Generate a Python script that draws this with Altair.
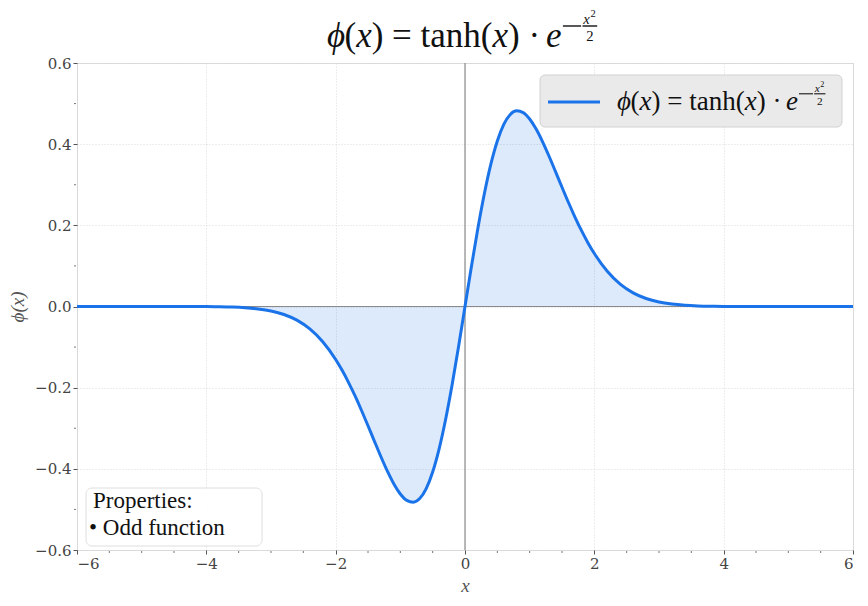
import altair as alt
import pandas as pd

# ---- data ----
xs = [-6.0, -5.6, -5.2, -4.8, -4.4, -4.0, -3.8, -3.6, -3.4, -3.2, -3.0, -2.8, -2.6, -2.4, -2.2,
      -2.0, -1.9, -1.8, -1.7, -1.6, -1.5, -1.4, -1.3, -1.2, -1.1, -1.0, -0.9, -0.8, -0.7, -0.6,
      -0.5, -0.4, -0.3, -0.2, -0.1, 0.0, 0.1, 0.2, 0.3, 0.4, 0.5, 0.6, 0.7, 0.8, 0.9, 1.0, 1.1,
      1.2, 1.3, 1.4, 1.5, 1.6, 1.7, 1.8, 1.9, 2.0, 2.2, 2.4, 2.6, 2.8, 3.0, 3.2, 3.4, 3.6, 3.8,
      4.0, 4.4, 4.8, 5.2, 5.6, 6.0]
ys = [0.0, 0.0, 0.0, 0.0, 0.0, -0.0003, -0.0007, -0.0015, -0.0031, -0.0060, -0.0110, -0.0197,
      -0.0337, -0.0552, -0.0868, -0.1305, -0.1573, -0.1874, -0.2205, -0.2562, -0.2939, -0.3323,
      -0.3702, -0.4058, -0.4372, -0.4619, -0.4778, -0.4821, -0.4731, -0.4486, -0.4078, -0.3507,
      -0.2785, -0.1935, -0.0992, 0.0, 0.0992, 0.1935, 0.2785, 0.3507, 0.4078, 0.4486, 0.4731,
      0.4821, 0.4778, 0.4619, 0.4372, 0.4058, 0.3702, 0.3323, 0.2939, 0.2562, 0.2205, 0.1874,
      0.1573, 0.1305, 0.0868, 0.0552, 0.0337, 0.0197, 0.0110, 0.0060, 0.0031, 0.0015, 0.0007,
      0.0003, 0.0, 0.0, 0.0, 0.0, 0.0]
x_ticks = [-6, -4, -2, 0, 2, 4, 6]
y_ticks = [-0.6, -0.4, -0.2, 0.0, 0.2, 0.4, 0.6]
x_minor = [-5.5, -5, -4.5, -3.5, -3, -2.5, -1.5, -1, -0.5, 0.5, 1, 1.5, 2.5, 3, 3.5, 4.5, 5, 5.5]
y_minor = [-0.5, -0.3, -0.1, 0.1, 0.3, 0.5]
props_lines = ["Properties:", "• Odd function"]

W, H = 776, 487
BLUE = "#1a73e8"
SERIF = "DejaVu Serif"
MATH = "Liberation Serif"

df = pd.DataFrame({"x": xs, "y": ys})
one = pd.DataFrame({"a": [0]})

xscale = alt.Scale(domain=[-6, 6], nice=False, zero=False)
yscale = alt.Scale(domain=[-0.6, 0.6], nice=False, zero=False)

xaxis = alt.Axis(values=x_ticks, format="d", labelExpr="replace(datum.label, '-', '−')",
                 title="x", titleFont=MATH, titleFontStyle="italic", titleFontWeight="normal",
                 titleFontSize=19, titleColor="#555555", titlePadding=5,
                 labelFont=SERIF, labelFontSize=15, labelColor="#444444", labelPadding=2,
                 tickSize=4, tickColor="#555555", domain=False,
                 grid=True, gridColor="#d2d2d2", gridDash=[1, 2], gridWidth=0.8)
yaxis = alt.Axis(values=y_ticks, format=".1f", labelExpr="replace(datum.label, '-', '−')",
                 title="ϕ(x)", titleFont=MATH, titleFontStyle="italic", titleFontWeight="normal",
                 titleFontSize=19, titleColor="#555555", titlePadding=7,
                 labelFont=SERIF, labelFontSize=15, labelColor="#444444", labelPadding=2,
                 tickSize=4, tickColor="#555555", domain=False,
                 grid=True, gridColor="#d2d2d2", gridDash=[1, 2], gridWidth=0.8)

area = alt.Chart(df).mark_area(color=BLUE, opacity=0.15, interpolate="monotone").encode(
    x=alt.X("x:Q", scale=xscale, axis=xaxis),
    y=alt.Y("y:Q", scale=yscale, axis=yaxis),
    y2=alt.datum(0),
)
line = alt.Chart(df).mark_line(color=BLUE, strokeWidth=3, interpolate="monotone").encode(
    x="x:Q", y="y:Q")

hzero = alt.Chart(one).mark_rule(color="#8a8a8a", strokeWidth=1.2).encode(y=alt.datum(0))
vzero = alt.Chart(one).mark_rule(color="#8a8a8a", strokeWidth=1.2).encode(x=alt.datum(0))

xmin = alt.Chart(pd.DataFrame({"m": x_minor})).mark_rule(color="#777777", strokeWidth=1).encode(
    x="m:Q", y=alt.value(H + 1), y2=alt.value(H + 3))
ymin = alt.Chart(pd.DataFrame({"m": y_minor})).mark_rule(color="#777777", strokeWidth=1).encode(
    y="m:Q", x=alt.value(-3), x2=alt.value(-1))

layers = [area, hzero, vzero, line, xmin, ymin]

# ---- math labels (title and legend) ----
WID = {"ϕ": 0.5, "(": 0.333, ")": 0.333, "x": 0.444, " ": 0.25, "=": 0.564, "t": 0.278,
       "a": 0.444, "n": 0.5, "h": 0.5, "·": 0.25, "e": 0.444}


def txt(t, x, y, size, style="normal", font=MATH, color="#111111"):
    return alt.Chart(one).mark_text(align="left", baseline="alphabetic", font=font,
                                    fontSize=size, fontStyle=style, color=color).encode(
        x=alt.value(x), y=alt.value(y), text=alt.value(t))


def rule(x1, x2, y, w):
    return alt.Chart(one).mark_rule(color="#111111", strokeWidth=w).encode(
        x=alt.value(x1), x2=alt.value(x2), y=alt.value(y))


def math_label(x0, b, s):
    segs = [("ϕ", "italic"), ("(", "normal"), ("x", "italic"), (") = tanh(", "normal"),
            ("x", "italic"), (") · ", "normal"), ("e", "italic")]
    out = []
    x = x0
    for t, st in segs:
        out.append(txt(t, x, b, s, st))
        x += sum(WID[c] for c in t) * s
    xe = x
    ly = b - 0.60 * s
    lw = max(1.0, s * 0.04)
    out.append(rule(xe + 0.04 * s, xe + 0.56 * s, ly, lw))
    out.append(rule(xe + 0.60 * s, xe + 1.02 * s, ly, lw))
    out.append(txt("x", xe + 0.62 * s, b - 0.66 * s, 0.42 * s, "italic"))
    out.append(txt("2", xe + 0.62 * s + 0.21 * s, b - 0.86 * s, 0.30 * s))
    out.append(txt("2", xe + 0.71 * s, b - 0.17 * s, 0.42 * s))
    return out


# title
layers += math_label(250, -16, 35)

# legend box
layers.append(alt.Chart(one).mark_rect(fill="#e9e9e9", stroke="#d0d0d0", strokeWidth=1,
                                       cornerRadius=5, opacity=0.95).encode(
    x=alt.value(463), x2=alt.value(765), y=alt.value(12), y2=alt.value(64)))
layers.append(alt.Chart(one).mark_rule(color=BLUE, strokeWidth=3).encode(
    x=alt.value(471), x2=alt.value(523), y=alt.value(39)))
layers += math_label(540, 47, 27)

# properties box
layers.append(alt.Chart(one).mark_rect(fill="#ffffff", stroke="#dcdcdc", strokeWidth=1,
                                       cornerRadius=6, opacity=0.9).encode(
    x=alt.value(9), x2=alt.value(185), y=alt.value(425), y2=alt.value(483)))
layers.append(txt(props_lines[0], 16, 445, 23, color="#111111"))
layers.append(txt(props_lines[1], 12, 472, 23, color="#111111"))

chart = alt.layer(*layers).properties(
    width=W, height=H,
    autosize=alt.AutoSizeParams(type="none"),
    padding={"left": 69, "top": 55, "right": 7, "bottom": 48},
).configure_view(fill="#f7f8fa", stroke=None).configure(background="#ffffff")

chart.save("out.html", embed_options={"renderer": "svg", "actions": False})
